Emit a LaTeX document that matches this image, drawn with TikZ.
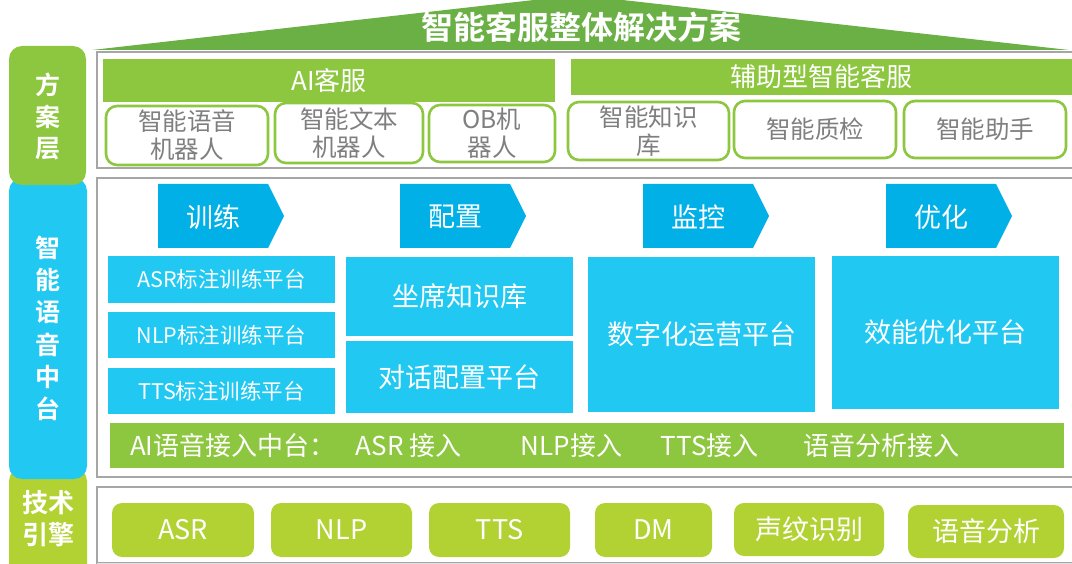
\documentclass[tikz,border=0pt]{standalone}
\usepackage{fontspec}
\setmainfont{Noto Sans CJK SC}[BoldFont={Noto Sans CJK SC Bold}]
\definecolor{titlegreen}{RGB}{106,176,69}
\definecolor{lgreen}{RGB}{141,198,63}
\definecolor{ygreen}{RGB}{178,210,52}
\definecolor{cyanbox}{RGB}{32,200,242}
\definecolor{cblue}{RGB}{0,176,230}
\definecolor{gtext}{RGB}{127,127,127}
\definecolor{framegray}{RGB}{166,166,166}
\tikzset{
  base/.style={inner sep=0pt, outer sep=0pt},
  sidebox/.style={base, rounded corners=13pt},
  sidetext/.style={base, text=white, align=center, font=\bfseries\fontsize{25}{32.2}\selectfont},
  greenbar/.style={base, fill=lgreen, text=white, font=\fontsize{26}{30}\selectfont},
  subbox/.style={base, draw=lgreen, line width=2.6pt, fill=white, rounded corners=11pt, text=gtext, align=center, font=\fontsize{24.5}{28}\selectfont},
  bluebox/.style={base, fill=cyanbox, text=white, font=\fontsize{27}{30}\selectfont},
  smallblue/.style={bluebox, font=\fontsize{21.5}{24}\selectfont},
  chev/.style={fill=cblue},
  chevtext/.style={base, text=white, font=\fontsize{27}{30}\selectfont},
  engbox/.style={base, fill=ygreen, rounded corners=10pt, text=white, font=\fontsize{27}{30}\selectfont},
  framebox/.style={draw=framegray, line width=2.4pt},
}
\begin{document}
\begin{tikzpicture}[x=1pt, y=-1pt]
\useasboundingbox (0,0) rectangle (1072,564);
\clip (0,0) rectangle (1072,564);
% title roof
\fill[titlegreen] (92,50) -- (578,-5) -- (1069,50) -- cycle;
\node[base, text=white, font=\bfseries\fontsize{32}{36}\selectfont] (title) at (581,27) {智能客服整体解决方案};
% frames
\draw[framebox] (97,52) rectangle (1090,168);
\draw[framebox] (97,178) rectangle (1090,477);
\draw[framebox] (97,487) rectangle (1090,563);
\draw[white, line width=2pt] (96,564.5) -- (1072,564.5);
\draw[black!12, line width=1pt] (97,563) -- (1072,563);
% side labels
\node[sidebox, fill=ygreen, minimum width=78pt, minimum height=110pt] (jishu) at (48,523) {};
\node[sidebox, fill=cyanbox, minimum width=78pt, minimum height=301pt] (zhong) at (48,328.5) {};
\node[sidebox, fill=lgreen, minimum width=77pt, minimum height=139pt] (fang) at (47.5,115.5) {};
\node[sidetext, font=\bfseries\fontsize{25}{31.5}\selectfont] (fangt) at (48,116.5) {方\\案\\层};
\node[sidetext] (zhongt) at (48,328.5) {智\\能\\语\\音\\中\\台};
\node[sidetext, font=\bfseries\fontsize{26}{32}\selectfont] (jishut) at (49,519) {技术\\引擎};
% solution layer
\node[greenbar, minimum width=452pt, minimum height=43pt] (ai) at (329,80.5) {AI客服};
\node[greenbar, minimum width=501pt, minimum height=36pt] (fz) at (821.5,77) {辅助型智能客服};
\node[subbox, minimum width=162pt, minimum height=59pt] (s1) at (187,135.5) {智能语音\\机器人};
\node[subbox, minimum width=148pt, minimum height=60pt] (s2) at (349,133) {智能文本\\机器人};
\node[subbox, minimum width=126pt, minimum height=57pt] (s3) at (492,133.5) {OB机\\器人};
\node[subbox, minimum width=161pt, minimum height=58pt] (s4) at (648.5,131) {智能知识\\库};
\node[subbox, minimum width=162pt, minimum height=57pt] (s5) at (815,129.5) {智能质检};
\node[subbox, minimum width=162pt, minimum height=57pt] (s6) at (985,129.5) {智能助手};
% chevrons
\fill[chev] (158,184) -- (268,184) -- (284,216) -- (268,248) -- (158,248) -- cycle;
\node[chevtext] (c1) at (213,217) {训练};
\fill[chev] (400,184) -- (510,184) -- (526,216) -- (510,248) -- (400,248) -- cycle;
\node[chevtext] (c2) at (455,217) {配置};
\fill[chev] (643,184) -- (753,184) -- (769,216) -- (753,248) -- (643,248) -- cycle;
\node[chevtext] (c3) at (698,217) {监控};
\fill[chev] (886,184) -- (996,184) -- (1012,216) -- (996,248) -- (886,248) -- cycle;
\node[chevtext] (c4) at (941,217) {优化};
% platform boxes
\node[smallblue, minimum width=227pt, minimum height=47pt] (b1) at (221.5,279.5) {ASR标注训练平台};
\node[smallblue, minimum width=227pt, minimum height=46pt] (b2) at (221.5,335) {NLP标注训练平台};
\node[smallblue, minimum width=227pt, minimum height=46pt] (b3) at (221.5,391) {TTS标注训练平台};
\node[bluebox, minimum width=227pt, minimum height=79pt] (b4) at (459.5,296.5) {坐席知识库};
\node[bluebox, minimum width=227pt, minimum height=72pt] (b5) at (459.5,377) {对话配置平台};
\node[bluebox, minimum width=227pt, minimum height=155pt] (b6) at (701.5,334.5) {数字化运营平台};
\node[bluebox, minimum width=227pt, minimum height=153pt] (b7) at (945.5,332.5) {效能优化平台};
% access bar
\node[greenbar, minimum width=954pt, minimum height=45pt] (acc) at (587,445.5) {};
\node[base, anchor=west, text=white, font=\fontsize{26}{30}\selectfont] (acct) at (130,446)
  {\makebox[226pt][l]{AI语音接入中台：}\makebox[165pt][l]{ASR 接入}\makebox[140pt][l]{NLP接入}\makebox[143pt][l]{TTS接入}语音分析接入};
% engines
\node[engbox, minimum width=142pt, minimum height=54pt] (e1) at (183,530) {ASR};
\node[engbox, minimum width=141pt, minimum height=54pt] (e2) at (341.5,530) {NLP};
\node[engbox, minimum width=141pt, minimum height=54pt] (e3) at (499.5,530) {TTS};
\node[engbox, minimum width=117pt, minimum height=54pt] (e4) at (653.5,530) {DM};
\node[engbox, minimum width=150pt, minimum height=53pt] (e5) at (809,529.5) {声纹识别};
\node[engbox, minimum width=156pt, minimum height=53pt] (e6) at (986,531.5) {语音分析};
\end{tikzpicture}
\end{document}
